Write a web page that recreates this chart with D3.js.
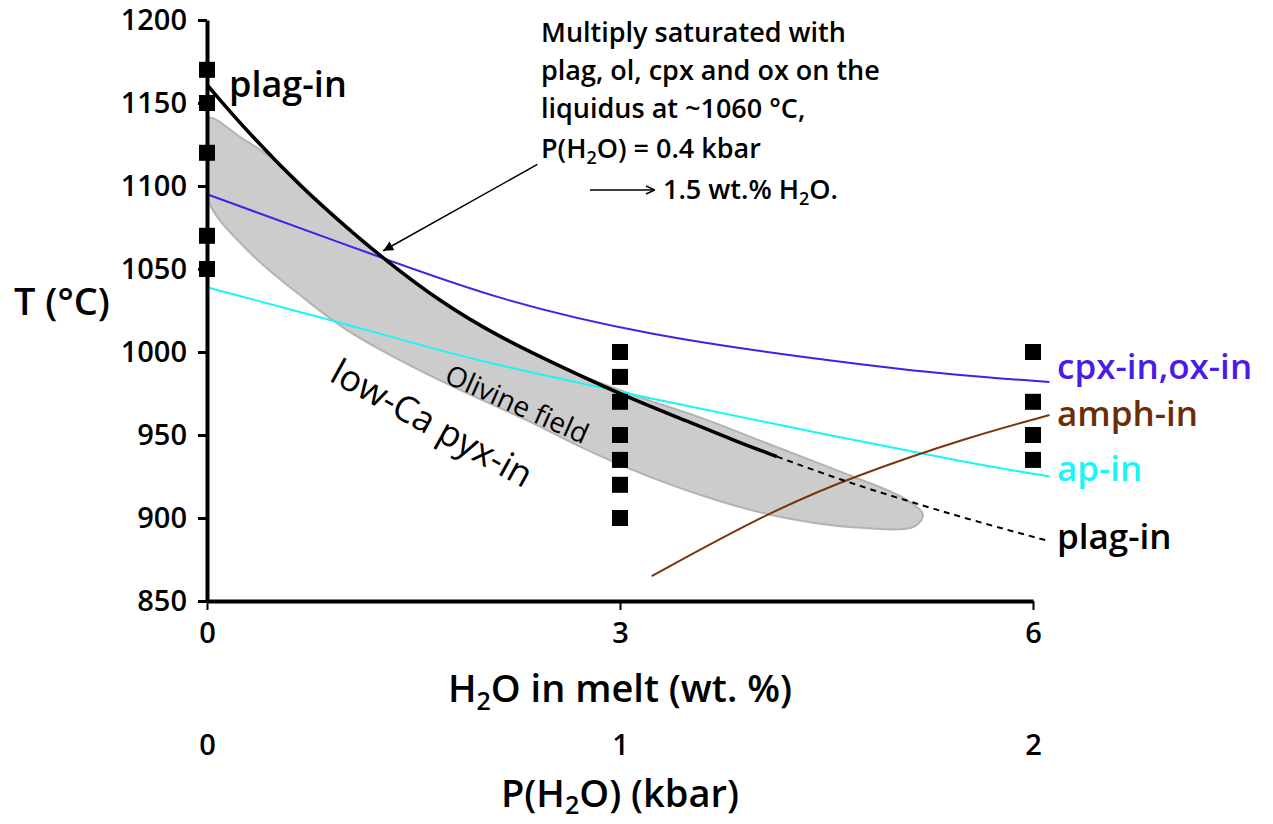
<!DOCTYPE html>
<html>
<head>
<meta charset="utf-8">
<script src="https://cdn.jsdelivr.net/npm/d3@7"></script>
<style>
  body { margin: 0; background: #fff; }
  svg { display: block; font-family: "Open Sans", sans-serif; font-weight: 600; }
  .axis path, .axis line { stroke: #000; }
  .axis text { font-size: 29px; fill: #000; font-family: "Open Sans", sans-serif; font-weight: 600; }
</style>
</head>
<body>
<svg id="chart"></svg>
<script>
// axis ticks
const tempTicks = [850, 900, 950, 1000, 1050, 1100, 1150, 1200];
const waterTicks = [0, 3, 6];
const pressureTicks = [0, 1, 2];

// experiments: [H2O wt%, T]
const experiments = [
    [0, 1170], [0, 1150], [0, 1120], [0, 1070], [0, 1050],
    [3, 1000], [3, 985], [3, 970], [3, 950], [3, 935], [3, 920], [3, 900],
    [6, 1000], [6, 970], [6, 950], [6, 935]
];

// phase-in curves: [H2O wt%, T]
const plagSolid = [[0, 1161], [0.3, 1132], [0.7, 1098], [1.0, 1076], [1.3, 1055], [1.7, 1030],
    [2.1, 1010], [2.6, 990], [3.1, 971], [3.5, 958], [3.85, 946], [4.14, 937]];
const plagDashed = [[4.14, 937], [4.60, 923], [5.06, 911], [5.54, 899], [6.12, 886]];
const cpxIn = [[0, 1095], [1.26, 1057], [2.13, 1031], [3.22, 1010], [4.31, 997], [5.40, 986], [6.12, 982]];
const apIn = [[0, 1039], [0.68, 1024], [1.40, 1008], [1.89, 996], [3.22, 972], [4.45, 951], [5.54, 933], [6.12, 925]];
const amphIn = [[3.23, 865], [4.07, 903], [4.69, 925], [5.54, 949], [6.12, 962]];

// olivine field outline (upper edge, then lower edge back)
const olivineField = [[0, 1141], [0.25, 1129], [0.5, 1115], [0.8, 1092], [1.3, 1055], [1.7, 1030],
    [2.1, 1010], [2.6, 990], [3.1, 974], [3.6, 960], [4.16, 942], [4.69, 925], [5.06, 912], [5.2, 902],
    [5.14, 895], [4.69, 894.5], [4.09, 902], [3.58, 914], [3.09, 929], [2.71, 943], [2.37, 957], [1.64, 985],
    [1.04, 1012], [0.68, 1034], [0.31, 1060], [0, 1093]];

// annotation arrow
const arrowFrom = [2.40, 1113];
const arrowTo = [1.28, 1061];

const width = 1273, height = 824;

const svg = d3.select('#chart')
    .attr('width', width)
    .attr('height', height);

const x = d3.scaleLinear().domain([0, 6]).range([207, 1033]);
const xP = d3.scaleLinear().domain([0, 2]).range([207, 1033]);
const y = d3.scaleLinear().domain([850, 1200]).range([601, 20]);

const defs = svg.append('defs');
defs.append('clipPath').attr('id', 'plotClip')
    .append('rect').attr('x', x(0)).attr('y', 0).attr('width', width).attr('height', height);
defs.append('marker')
    .attr('id', 'head')
    .attr('viewBox', '0 0 10 10')
    .attr('refX', 10).attr('refY', 5)
    .attr('markerWidth', 20).attr('markerHeight', 10)
    .attr('markerUnits', 'userSpaceOnUse')
    .attr('orient', 'auto')
    .append('path').attr('d', 'M0,0 L10,5 L0,10 Z').attr('fill', '#000');
defs.append('marker')
    .attr('id', 'openHead')
    .attr('viewBox', '0 0 10 10')
    .attr('refX', 10).attr('refY', 5)
    .attr('markerWidth', 10).attr('markerHeight', 10)
    .attr('markerUnits', 'userSpaceOnUse')
    .attr('orient', 'auto')
    .append('path').attr('d', 'M1,1 L10,5 L1,9').attr('fill', 'none').attr('stroke', '#000').attr('stroke-width', 1.5);

const line = d3.line()
    .x(d => x(d[0]))
    .y(d => y(d[1]))
    .curve(d3.curveBasis);

// olivine field
svg.append('path')
    .attr('clip-path', 'url(#plotClip)')
    .attr('d', d3.line().x(d => x(d[0])).y(d => y(d[1])).curve(d3.curveCatmullRomClosed)(olivineField))
    .attr('fill', '#cccccc')
    .attr('stroke', '#b3b3b3')
    .attr('stroke-width', 2);

const curves = [
    { data: cpxIn, color: '#4a1ce8', w: 2, dash: null },
    { data: apIn, color: '#1af5f5', w: 2, dash: null },
    { data: amphIn, color: '#7a3510', w: 2, dash: null },
    { data: plagDashed, color: '#000', w: 2, dash: '6,5' },
    { data: plagSolid, color: '#000', w: 3.5, dash: null }
];
svg.selectAll('.curve')
    .data(curves)
    .enter()
    .append('path')
    .attr('class', 'curve')
    .attr('d', d => line(d.data))
    .attr('fill', 'none')
    .attr('stroke', d => d.color)
    .attr('stroke-width', d => d.w)
    .attr('stroke-dasharray', d => d.dash);

// axes
const yAxis = svg.append('g')
    .attr('class', 'axis')
    .attr('transform', `translate(${x(0)},0)`)
    .call(d3.axisLeft(y).tickValues(tempTicks).tickFormat(d3.format('d'))
        .tickSize(9).tickSizeOuter(0).tickPadding(11));
yAxis.select('.domain').attr('stroke-width', 4);
yAxis.selectAll('.tick line').attr('stroke-width', 3);

const xAxis = svg.append('g')
    .attr('class', 'axis')
    .attr('transform', `translate(0,${y(850)})`)
    .call(d3.axisBottom(x).tickValues(waterTicks).tickFormat(d3.format('d'))
        .tickSize(9).tickSizeOuter(0).tickPadding(12));
xAxis.select('.domain').attr('stroke-width', 4);
xAxis.selectAll('.tick line').attr('stroke-width', 2);

const pAxis = svg.append('g')
    .attr('class', 'axis')
    .attr('transform', `translate(0,734)`)
    .call(d3.axisBottom(xP).tickValues(pressureTicks).tickFormat(d3.format('d'))
        .tickSize(0).tickPadding(0));
pAxis.select('.domain').remove();

// experiment markers
const s = 16;
svg.selectAll('.exp')
    .data(experiments)
    .enter()
    .append('rect')
    .attr('class', 'exp')
    .attr('x', d => x(d[0]) - s / 2)
    .attr('y', d => y(d[1]) - s / 2)
    .attr('width', s)
    .attr('height', s)
    .attr('fill', '#000');

// arrow to multiple saturation point
svg.append('line')
    .attr('x1', x(arrowFrom[0])).attr('y1', y(arrowFrom[1]))
    .attr('x2', x(arrowTo[0])).attr('y2', y(arrowTo[1]))
    .attr('stroke', '#000').attr('stroke-width', 1.5)
    .attr('marker-end', 'url(#head)');

// titles
svg.append('text')
    .attr('x', 14).attr('y', 315)
    .attr('font-size', 38)
    .text('T (°C)');

const xt = svg.append('text')
    .attr('x', x(3)).attr('y', 702)
    .attr('text-anchor', 'middle')
    .attr('font-size', 38);
xt.append('tspan').text('H');
xt.append('tspan').attr('font-size', 25).attr('dy', 8).text('2');
xt.append('tspan').attr('dy', -8).text('O in melt (wt. %)');

const pt = svg.append('text')
    .attr('x', x(3)).attr('y', 807)
    .attr('text-anchor', 'middle')
    .attr('font-size', 38);
pt.append('tspan').text('P(H');
pt.append('tspan').attr('font-size', 25).attr('dy', 7).text('2');
pt.append('tspan').attr('dy', -7).text('O) (kbar)');

// note
const note = svg.append('g').attr('font-size', 27);
const noteLines = ['Multiply saturated with', 'plag, ol, cpx and ox on the', 'liquidus at ~1060 °C,'];
noteLines.forEach((t, i) => {
    note.append('text').attr('x', 541).attr('y', 42 + i * 38).text(t);
});
const n4 = note.append('text').attr('x', 541).attr('y', 158);
n4.append('tspan').text('P(H');
n4.append('tspan').attr('font-size', 18).attr('dy', 6).text('2');
n4.append('tspan').attr('dy', -6).text('O) = 0.4 kbar');
svg.append('line')
    .attr('x1', 590).attr('y1', 190).attr('x2', 655).attr('y2', 190)
    .attr('stroke', '#000').attr('stroke-width', 1.5)
    .attr('marker-end', 'url(#openHead)');
const n5 = note.append('text').attr('x', 663).attr('y', 199);
n5.append('tspan').text('1.5 wt.% H');
n5.append('tspan').attr('font-size', 18).attr('dy', 6).text('2');
n5.append('tspan').attr('dy', -6).text('O.');

// curve labels
svg.append('text').attr('x', 229).attr('y', 97).attr('font-size', 36).text('plag-in');
const labels = [
    { t: 'cpx-in,ox-in', c: '#4a1ce8', y: 379 },
    { t: 'amph-in', c: '#6b2d08', y: 426 },
    { t: 'ap-in', c: '#1af5f5', y: 481 },
    { t: 'plag-in', c: '#000', y: 549 }
];
svg.selectAll('.lab')
    .data(labels)
    .enter()
    .append('text')
    .attr('class', 'lab')
    .attr('x', 1057)
    .attr('y', d => d.y)
    .attr('font-size', 35)
    .attr('fill', d => d.c)
    .text(d => d.t);

svg.append('text')
    .attr('transform', 'translate(443,382) rotate(24)')
    .attr('font-size', 28)
    .attr('font-weight', 500)
    .text('Olivine field');
svg.append('text')
    .attr('transform', 'translate(328,380) rotate(29)')
    .attr('font-size', 36)
    .attr('font-weight', 500)
    .text('low-Ca pyx-in');
</script>
</body>
</html>
